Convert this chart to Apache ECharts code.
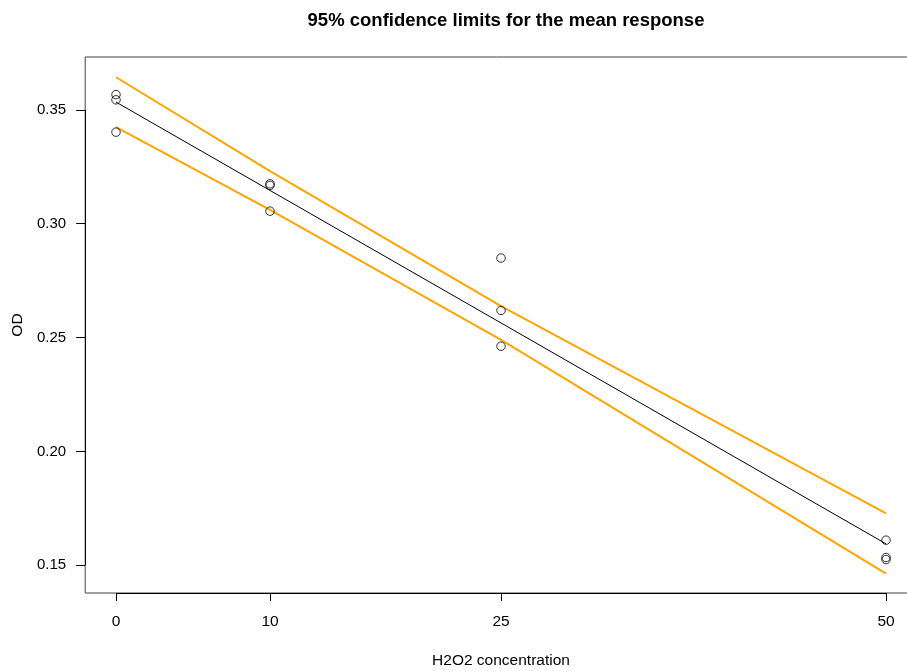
<!DOCTYPE html>
<html>
<head>
<meta charset="utf-8">
<script src="https://cdn.jsdelivr.net/npm/echarts@6/dist/echarts.min.js"></script>
<style>
  html, body { margin: 0; padding: 0; background: #ffffff; }
  #chart { width: 907px; height: 671px; }
</style>
</head>
<body>
<div id="chart"></div>
<script>
// Observed optical density at each H2O2 concentration
const concentration = [0, 0, 0, 10, 10, 10, 25, 25, 25, 50, 50, 50];
const od = [0.3567, 0.3544, 0.3402, 0.3175, 0.3168, 0.3055, 0.2849, 0.2619, 0.2462, 0.1610, 0.1534, 0.1525];

// Fitted regression line and 95% confidence limits for the mean response
const fitX = [0, 10, 25, 50];
const fitOD = [0.3534, 0.3146, 0.2564, 0.1594];
const upperOD = [0.3643, 0.3231, 0.2638, 0.1728];
const lowerOD = [0.3424, 0.3061, 0.2490, 0.1463];

// Axis ticks and limits
const xTicks = [0, 10, 25, 50];
const yTicks = [0.15, 0.20, 0.25, 0.30, 0.35];
const xLimits = [-2, 52];
const yLimits = [0.1378, 0.3732];

const FONT = '"Liberation Sans", Arial, Helvetica, sans-serif';

const pairs = (xs, ys) => xs.map((x, i) => [x, ys[i]]);

const chart = echarts.init(document.getElementById('chart'), null, { renderer: 'canvas' });

chart.setOption({
  animation: false,
  backgroundColor: '#ffffff',
  title: {
    text: '95% confidence limits for the mean response',
    left: 501,
    top: 6,
    textAlign: 'center',
    textStyle: { fontFamily: FONT, fontSize: 18.5, fontWeight: 'bold', color: '#000000' }
  },
  grid: {
    left: 85.2,
    top: 57,
    width: 831.6,
    height: 536,
    outerBoundsMode: 'none',
    containLabel: false,
    show: true,
    borderColor: '#444444',
    borderWidth: 1,
    backgroundColor: 'transparent'
  },
  xAxis: {
    type: 'value',
    min: xLimits[0],
    max: xLimits[1],
    name: 'H2O2 concentration',
    nameLocation: 'middle',
    nameGap: 60,
    nameTextStyle: { fontFamily: FONT, fontSize: 15.5, color: '#000000' },
    axisLine: { show: false, onZero: false },
    splitLine: { show: false },
    axisTick: {
      show: true,
      inside: false,
      length: 8,
      customValues: xTicks,
      lineStyle: { color: '#000000', width: 1 }
    },
    axisLabel: {
      customValues: xTicks,
      margin: 21,
      fontFamily: FONT,
      fontSize: 15.5,
      color: '#000000',
      showMinLabel: true,
      showMaxLabel: true
    }
  },
  yAxis: {
    type: 'value',
    min: yLimits[0],
    max: yLimits[1],
    name: 'OD',
    nameLocation: 'middle',
    nameGap: 50,
    nameRotate: 90,
    nameTextStyle: { fontFamily: FONT, fontSize: 15.5, color: '#000000' },
    axisLine: { show: false, onZero: false },
    splitLine: { show: false },
    axisTick: {
      show: true,
      inside: false,
      length: 9,
      customValues: yTicks,
      lineStyle: { color: '#000000', width: 1 }
    },
    axisLabel: {
      customValues: yTicks,
      margin: 19,
      fontFamily: FONT,
      fontSize: 15,
      color: '#000000',
      formatter: v => v.toFixed(2)
    }
  },
  series: [
    {
      // axis lines spanning the tick range
      type: 'line',
      data: [],
      silent: true,
      markLine: {
        symbol: ['none', 'none'],
        silent: true,
        label: { show: false },
        lineStyle: { color: '#000000', width: 1, type: 'solid' },
        data: [
          [{ coord: [xTicks[0], yLimits[0]] }, { coord: [xTicks[xTicks.length - 1], yLimits[0]] }],
          [{ coord: [xLimits[0], yTicks[0]] }, { coord: [xLimits[0], yTicks[yTicks.length - 1]] }]
        ]
      }
    },
    {
      name: 'upper',
      type: 'line',
      data: pairs(fitX, upperOD),
      showSymbol: false,
      symbol: 'none',
      lineStyle: { color: '#FFA500', width: 2 },
      z: 3
    },
    {
      name: 'lower',
      type: 'line',
      data: pairs(fitX, lowerOD),
      showSymbol: false,
      symbol: 'none',
      lineStyle: { color: '#FFA500', width: 2 },
      z: 3
    },
    {
      name: 'fit',
      type: 'line',
      data: pairs(fitX, fitOD),
      showSymbol: false,
      symbol: 'none',
      lineStyle: { color: '#000000', width: 1 },
      z: 4
    },
    {
      name: 'OD',
      type: 'scatter',
      data: pairs(concentration, od),
      symbol: 'circle',
      symbolSize: 8.5,
      itemStyle: { color: 'rgba(255,255,255,0)', borderColor: '#000000', borderWidth: 1 },
      z: 5
    }
  ]
});
</script>
</body>
</html>
